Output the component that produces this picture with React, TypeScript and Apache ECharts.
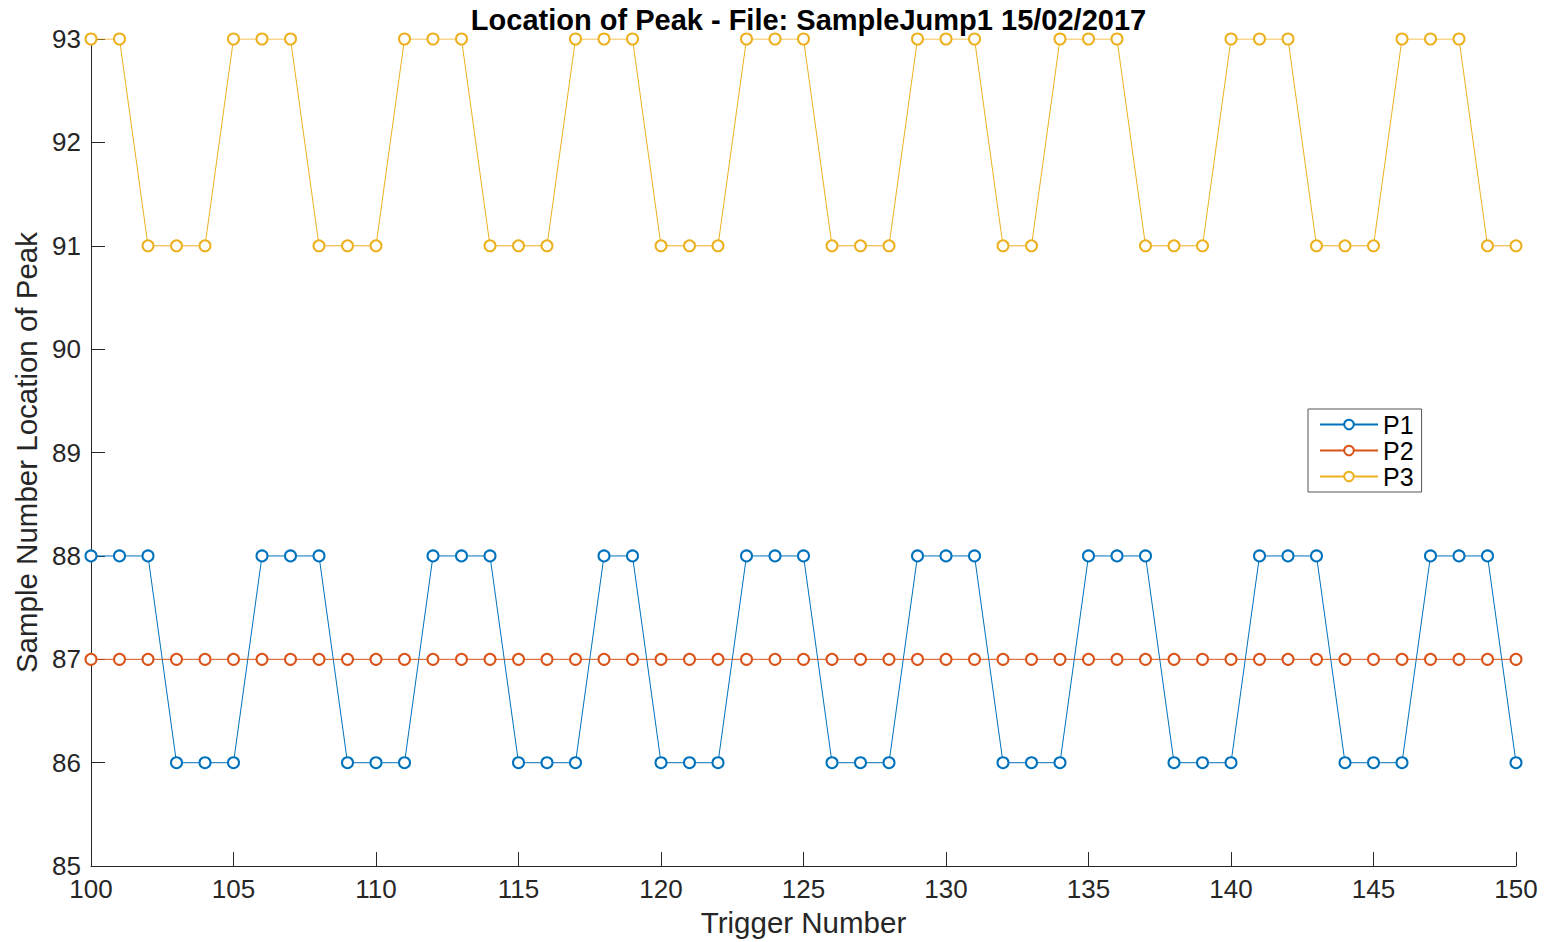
import React, { useEffect, useRef } from "react";
import * as echarts from "echarts";

// Trigger numbers on the x axis
const triggers = [
  100, 101, 102, 103, 104, 105, 106, 107, 108, 109,
  110, 111, 112, 113, 114, 115, 116, 117, 118, 119,
  120, 121, 122, 123, 124, 125, 126, 127, 128, 129,
  130, 131, 132, 133, 134, 135, 136, 137, 138, 139,
  140, 141, 142, 143, 144, 145, 146, 147, 148, 149,
  150,
];

// Sample number location of each peak per trigger
const p1 = [
  88, 88, 88, 86, 86, 86, 88, 88, 88, 86,
  86, 86, 88, 88, 88, 86, 86, 86, 88, 88,
  86, 86, 86, 88, 88, 88, 86, 86, 86, 88,
  88, 88, 86, 86, 86, 88, 88, 88, 86, 86,
  86, 88, 88, 88, 86, 86, 86, 88, 88, 88,
  86,
];
const p2 = [
  87, 87, 87, 87, 87, 87, 87, 87, 87, 87,
  87, 87, 87, 87, 87, 87, 87, 87, 87, 87,
  87, 87, 87, 87, 87, 87, 87, 87, 87, 87,
  87, 87, 87, 87, 87, 87, 87, 87, 87, 87,
  87, 87, 87, 87, 87, 87, 87, 87, 87, 87,
  87,
];
const p3 = [
  93, 93, 91, 91, 91, 93, 93, 93, 91, 91,
  91, 93, 93, 93, 91, 91, 91, 93, 93, 93,
  91, 91, 91, 93, 93, 93, 91, 91, 91, 93,
  93, 93, 91, 91, 93, 93, 93, 91, 91, 91,
  93, 93, 93, 91, 91, 91, 93, 93, 93, 91,
  91,
];

const seriesNames = ["P1", "P2", "P3"];
const seriesColors = ["#0072BD", "#D95319", "#EDB120"];
const seriesValues = [p1, p2, p3];

const FONT = "'Liberation Sans', Arial, Helvetica, sans-serif";
const AXIS_COLOR = "#262626";

export default function App() {
  const ref = useRef<HTMLDivElement>(null);

  useEffect(() => {
    if (!ref.current) return;
    document.body.style.margin = "0";
    const chart = echarts.init(ref.current, null, { renderer: "svg", width: 1557, height: 942 });

    const series = seriesNames.map((name, i) => ({
      name,
      type: "line",
      data: triggers.map((t, k) => [t, seriesValues[i][k]]),
      symbol: "emptyCircle",
      symbolSize: 11,
      showAllSymbol: true,
      color: seriesColors[i],
      lineStyle: { width: 1, color: seriesColors[i] },
      itemStyle: { color: seriesColors[i], borderWidth: 1.5 },
      emphasis: { disabled: true },
      z: 2 + i,
    }));

    chart.setOption({
      animation: false,
      backgroundColor: "#fff",
      textStyle: { fontFamily: FONT },
      title: {
        text: "Location of Peak - File: SampleJump1 15/02/2017",
        left: 803.5,
        textAlign: "center",
        top: 0,
        textStyle: {
          fontFamily: FONT,
          fontSize: 29,
          fontWeight: "bold",
          color: "#000",
        },
      },
      grid: { left: 91, top: 39, width: 1425, height: 832, containLabel: false },
      legend: {
        orient: "vertical",
        left: 1308,
        top: 409,
        data: seriesNames,
        itemWidth: 58,
        itemHeight: 12,
        itemGap: 1,
        padding: [3, 8, 3, 11],
        borderColor: "#555",
        borderWidth: 1,
        backgroundColor: "#fff",
        textStyle: { fontFamily: FONT, fontSize: 25, color: "#000" },
      },
      xAxis: {
        type: "value",
        min: 100,
        max: 150,
        interval: 5,
        name: "Trigger Number",
        nameLocation: "middle",
        nameGap: 38,
        nameTextStyle: { fontFamily: FONT, fontSize: 29.5, color: AXIS_COLOR },
        axisLine: { show: true, onZero: false, lineStyle: { color: AXIS_COLOR, width: 1 } },
        axisTick: { show: true, inside: true, length: 14, lineStyle: { color: AXIS_COLOR } },
        axisLabel: { fontFamily: FONT, fontSize: 26, color: AXIS_COLOR, margin: 10 },
        splitLine: { show: false },
      },
      yAxis: {
        type: "value",
        min: 85,
        max: 93,
        interval: 1,
        name: "Sample Number Location of Peak",
        nameLocation: "middle",
        nameGap: 48,
        nameTextStyle: { fontFamily: FONT, fontSize: 29.5, color: AXIS_COLOR },
        axisLine: { show: true, onZero: false, lineStyle: { color: AXIS_COLOR, width: 1 } },
        axisTick: { show: true, inside: true, length: 14, lineStyle: { color: AXIS_COLOR } },
        axisLabel: { fontFamily: FONT, fontSize: 26, color: AXIS_COLOR, margin: 10 },
        splitLine: { show: false },
      },
      series,
    });

    return () => chart.dispose();
  }, []);

  return <div ref={ref} style={{ width: 1557, height: 942 }} />;
}
